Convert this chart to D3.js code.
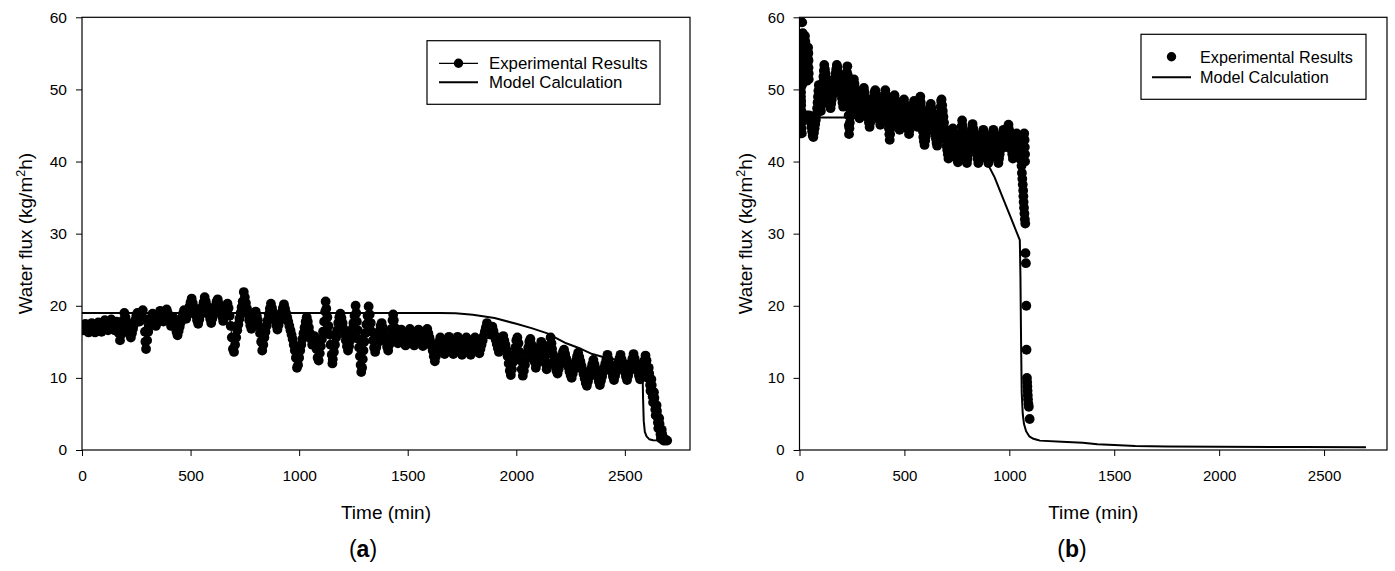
<!DOCTYPE html>
<html><head><meta charset="utf-8">
<script src="https://cdn.jsdelivr.net/npm/d3@7"></script>
<style>body{margin:0;background:#fff} svg{display:block} text{font-family:"Liberation Sans",Arial,sans-serif;fill:#000}</style>
</head><body><svg id="c" width="1395" height="571"></svg>
<script>
// ---------- data ----------
const xTicks=[0,500,1000,1500,2000,2500];
const yTicks=[0,10,20,30,40,50,60];
const xTitle="Time (min)";
const yTitleMain="Water flux (kg/m", yTitleSup="2", yTitleEnd="h)";
const legendLabels=["Experimental Results","Model Calculation"];
const panelLetters=["a","b"];

// panel (a): experimental results [time (min), flux]
const expA=[
[5,16.6],[10,17.1],[15,17.5],[20,17.0],[25,16.5],[30,16.3],[35,16.8],[40,17.3],[45,17.6],[50,17.1],[55,16.6],[60,16.3],[65,16.8],[70,17.3],[75,17.7],[80,17.2],[85,16.7],[90,16.4],[95,16.9],[100,17.5],
[105,18.0],[110,17.5],[115,16.9],[120,16.6],[125,17.1],[130,17.6],[135,18.1],[140,17.6],[145,17.0],[150,16.6],[155,17.2],[160,17.8],[165,17.0],[170,16.2],[175,15.2],[180,16.0],[185,17.0],[190,18.0],[195,19.0],[200,18.4],
[205,17.8],[210,17.2],[215,16.6],[220,16.0],[225,15.6],[230,16.2],[235,16.8],[240,17.4],[245,18.0],[250,18.6],[255,19.0],[260,18.4],[265,17.8],[270,18.4],[275,19.0],[280,19.4],[285,18.2],[290,16.4],[292,15.0],[295,14.0],[300,15.2],
[305,16.4],[310,17.2],[315,17.8],[320,18.4],[325,18.9],[330,18.4],[335,17.8],[340,17.2],[345,17.6],[350,18.2],[355,18.8],[360,19.3],[365,18.8],[370,18.2],[375,17.8],[380,18.4],[385,19.0],[390,19.5],[395,19.0],[400,18.4],
[405,17.8],[410,17.2],[415,17.8],[420,18.4],[425,17.8],[430,17.0],[435,16.4],[440,15.9],[445,16.5],[450,17.1],[455,17.7],[460,18.3],[465,18.9],[470,19.4],[475,18.8],[480,18.2],[485,18.7],[490,19.3],[495,19.9],[500,20.5],
[505,21.0],[510,20.4],[515,19.8],[520,19.2],[525,18.6],[530,18.0],[535,17.5],[540,18.1],[545,18.7],[550,19.3],[555,19.9],[560,20.5],[565,21.2],[570,20.6],[575,20.0],[580,19.4],[585,18.8],[590,18.2],[595,17.6],[600,18.2],
[605,18.8],[610,19.4],[615,20.0],[620,20.6],[625,20.9],[630,20.3],[635,19.7],[640,19.1],[645,18.5],[650,17.9],[655,18.5],[660,19.1],[665,19.7],[670,20.3],[675,19.7],[680,18.6],[685,17.2],[690,15.6],[695,14.0],[700,13.6],
[705,14.6],[710,15.6],[715,16.6],[720,17.4],[725,18.2],[730,19.0],[735,19.8],[740,20.6],[745,21.9],[750,21.2],[755,20.4],[760,19.6],[765,18.8],[770,18.0],[775,17.3],[780,16.8],[785,17.4],[790,18.0],[795,18.6],[800,19.2],
[805,18.6],[810,18.0],[815,17.2],[820,16.2],[825,15.0],[830,13.8],[835,14.6],[840,15.6],[845,16.4],[850,17.2],[855,18.0],[860,18.8],[865,19.6],[870,20.3],[875,19.7],[880,19.1],[885,18.5],[890,17.9],[895,17.3],[900,16.7],
[905,17.3],[910,17.9],[915,18.5],[920,19.1],[925,19.7],[930,20.2],[935,19.6],[940,19.0],[945,18.4],[950,17.8],[955,17.2],[960,16.6],[965,16.0],[970,15.4],[975,14.6],[980,13.8],[985,12.8],[990,11.4],[995,11.8],[1000,12.8],
[1005,13.8],[1010,14.6],[1015,15.4],[1020,16.2],[1025,17.0],[1030,17.8],[1035,18.4],[1040,17.8],[1045,17.0],[1050,16.2],[1055,15.4],[1060,14.6],[1065,15.2],[1070,15.8],[1075,15.0],[1080,14.0],[1085,12.8],[1090,12.4],[1095,13.4],[1100,14.4],
[1105,15.4],[1110,16.4],[1115,17.8],[1120,19.2],[1122,20.6],[1125,19.6],[1130,18.4],[1135,17.2],[1140,16.0],[1145,14.6],[1150,13.2],[1153,12.0],[1155,12.6],[1160,13.6],[1165,14.6],[1170,15.6],[1175,16.6],[1180,17.6],[1185,18.4],[1190,18.9],
[1195,18.3],[1200,17.6],[1205,16.8],[1210,16.0],[1215,15.2],[1220,14.4],[1225,13.8],[1230,14.4],[1235,15.2],[1240,16.0],[1245,16.8],[1250,17.6],[1255,18.6],[1260,20.0],[1263,19.0],[1266,17.8],[1270,16.6],[1273,15.4],[1276,14.2],[1280,13.0],[1283,11.8],[1286,10.8],[1290,11.4],[1293,12.6],[1296,13.8],[1300,15.0],
[1305,16.2],[1310,17.4],[1315,18.6],[1320,19.9],[1325,18.8],[1330,17.6],[1335,16.4],[1340,15.2],[1345,14.2],[1350,13.6],[1355,14.2],[1360,14.8],[1365,15.6],[1370,16.4],[1375,17.2],[1380,17.6],[1385,17.0],[1390,16.4],[1395,15.7],[1400,15.0],
[1405,14.3],[1410,13.8],[1415,14.6],[1420,15.6],[1425,16.8],[1430,18.0],[1433,18.8],[1436,18.0],[1440,17.0],[1445,16.2],[1450,15.4],[1455,14.8],[1460,15.4],[1465,16.0],[1470,16.7],[1475,16.2],[1480,15.6],[1485,15.0],[1490,14.5],[1495,15.1],[1500,15.7],
[1505,16.3],[1510,16.8],[1515,16.3],[1520,15.7],[1525,15.1],[1530,14.5],[1535,15.1],[1540,15.7],[1545,16.3],[1550,16.7],[1555,16.2],[1560,15.6],[1565,15.0],[1570,14.4],[1575,15.0],[1580,15.6],[1585,16.2],[1590,16.8],[1595,16.2],[1600,15.6],
[1605,15.0],[1610,14.4],[1615,13.8],[1620,13.0],[1625,12.3],[1630,13.0],[1635,13.7],[1640,14.4],[1645,15.0],[1650,15.6],[1655,15.0],[1660,14.4],[1665,13.8],[1670,13.3],[1675,13.9],[1680,14.5],[1685,15.1],[1690,15.7],[1695,15.1],[1700,14.5],
[1705,13.9],[1710,13.3],[1715,13.9],[1720,14.5],[1725,15.1],[1730,15.7],[1735,15.1],[1740,14.5],[1745,13.9],[1750,13.2],[1755,13.8],[1760,14.4],[1765,15.0],[1770,15.6],[1775,15.0],[1780,14.4],[1785,13.8],[1790,13.2],[1795,13.8],[1800,14.4],
[1805,15.0],[1810,15.6],[1815,15.0],[1820,14.4],[1825,13.8],[1830,13.4],[1835,14.0],[1840,14.6],[1845,15.2],[1850,15.8],[1855,16.4],[1860,17.0],[1865,17.6],[1870,17.2],[1875,16.6],[1880,16.0],[1885,16.6],[1890,17.1],[1895,16.5],[1900,15.9],
[1905,15.3],[1910,14.7],[1915,14.1],[1920,13.6],[1925,14.2],[1930,14.8],[1935,15.4],[1940,15.8],[1945,15.2],[1950,14.6],[1955,13.8],[1960,13.0],[1965,12.0],[1970,11.0],[1975,10.4],[1980,11.2],[1985,12.2],[1990,13.2],[1995,14.2],[2000,15.2],
[2005,15.6],[2010,14.8],[2015,13.6],[2020,12.4],[2025,11.2],[2030,10.3],[2035,11.0],[2040,11.8],[2045,12.6],[2050,13.4],[2055,14.2],[2060,15.0],[2065,15.4],[2070,14.6],[2075,13.8],[2080,13.0],[2085,12.2],[2090,11.4],[2095,12.0],[2100,12.8],
[2105,13.6],[2110,14.4],[2115,15.0],[2120,14.4],[2125,13.6],[2130,12.8],[2135,12.0],[2140,11.2],[2145,12.0],[2150,13.4],[2155,14.6],[2158,15.6],[2162,14.8],[2165,14.0],[2170,13.2],[2175,12.4],[2180,11.6],[2185,11.0],[2190,10.6],[2195,11.2],[2200,11.8],
[2205,12.4],[2210,13.0],[2215,13.6],[2220,13.9],[2225,13.3],[2230,12.7],[2235,12.1],[2240,11.5],[2245,10.9],[2250,10.4],[2255,10.0],[2260,10.6],[2265,11.2],[2270,11.8],[2275,12.4],[2280,13.0],[2285,13.5],[2290,12.9],[2295,12.3],[2300,11.7],
[2305,11.1],[2310,10.5],[2315,9.9],[2320,9.3],[2325,8.9],[2330,9.5],[2335,10.1],[2340,10.7],[2345,11.3],[2350,11.9],[2355,12.5],[2360,11.9],[2365,11.3],[2370,10.7],[2375,10.1],[2380,9.5],[2385,9.0],[2390,9.6],[2395,10.2],[2400,10.8],
[2405,11.4],[2410,12.0],[2415,12.6],[2420,13.2],[2425,12.6],[2430,12.0],[2435,11.4],[2440,10.8],[2445,10.2],[2450,9.7],[2455,10.3],[2460,10.9],[2465,11.5],[2470,12.1],[2475,12.7],[2480,13.2],[2485,12.6],[2490,12.0],[2495,11.4],[2500,10.8],
[2505,10.2],[2510,9.7],[2515,10.3],[2520,10.9],[2525,11.5],[2530,12.1],[2535,12.7],[2540,13.3],[2545,12.7],[2550,12.1],[2555,11.5],[2560,10.9],[2565,10.3],[2570,9.8],[2575,10.4],[2580,11.0],[2585,11.7],[2590,12.4],[2595,13.1],[2600,12.4],
[2602,11.6],[2604,10.8],[2606,10.0],[2608,10.8],[2610,11.4],[2612,10.6],[2614,9.8],[2616,9.0],[2618,8.2],[2620,9.0],[2622,9.8],[2624,9.0],[2626,8.2],[2628,7.4],[2630,6.6],[2632,7.4],[2634,8.0],[2636,7.2],[2638,6.4],[2640,5.6],[2642,4.8],[2644,5.6],[2646,6.2],[2648,5.4],[2650,4.6],[2652,3.8],[2654,3.0],[2656,3.8],[2658,4.4],[2660,3.6],[2662,2.8],[2664,2.2],[2666,1.6],[2668,2.2],[2670,2.8],[2672,2.2],[2675,1.6],[2678,1.3],[2682,1.5],[2686,1.3],[2690,1.4],[2695,1.3]];

// panel (a): model calculation
const modelA=[[0,19.0],[1650,19.0],[1720,18.95],[1800,18.75],[1900,18.3],[2000,17.5],[2070,16.9],[2140,16.2],[2230,14.8],[2300,14.0],[2350,13.3],[2400,12.9],[2450,12.6],[2500,12.4],[2550,12.2],[2578,11.8],[2582,10.0],[2584,7.0],[2587,4.0],[2592,2.5],[2600,1.9],[2612,1.5],[2630,1.35],[2700,1.3]];

// panel (b): experimental results
const expB=[
[0,44.2],[0,44.8],[1,45.4],[1,46.0],[2,46.6],[2,47.2],[3,47.8],[3,48.4],[4,49.0],[5,49.6],[6,50.2],[7,49.6],[7,49.0],[8,48.4],[8,47.8],[9,47.0],[9,46.2],[10,45.4],[10,44.6],[11,43.9],
[12,50.6],[12,51.4],[13,52.2],[13,53.0],[14,53.8],[14,54.6],[15,55.4],[15,56.2],[16,57.0],[16,57.8],[13,59.3],[18,57.2],[20,56.6],[22,56.0],[24,56.8],[26,57.4],[28,56.6],[29,55.8],[30,55.0],[31,54.2],[32,53.4],[33,52.6],[34,51.8],[35,51.2],[36,52.0],[37,52.8],[38,53.6],[39,54.4],[40,55.2],[41,55.8],[42,55.0],[43,54.0],[43,53.0],[44,52.2],[44,51.4],
[34,46.4],[38,46.2],[42,46.0],[46,46.4],[50,46.3],
[54,45.4],[57,44.8],[60,44.2],[63,43.6],[66,43.4],[69,44.0],[72,44.6],[75,45.2],[78,45.8],
[81,46.6],[84,47.4],[86,48.2],[88,49.0],[90,49.8],[92,50.6],[94,50.0],[96,49.2],[98,48.4],[100,47.6],[102,47.0],[104,47.8],[106,48.6],[108,49.4],[110,50.2],[112,51.0],[114,51.8],[116,52.6],[118,53.4],
[121,52.8],[124,52.2],[127,51.6],[130,51.0],[133,50.4],[136,49.8],[139,49.2],[142,48.6],[145,48.0],[148,47.4],[151,48.0],[154,48.6],[157,49.2],[160,49.8],[163,50.4],[166,51.0],[169,51.6],[172,52.2],[175,52.8],[178,53.4],[181,53.0],[184,52.4],[187,51.8],[190,51.2],[193,50.6],[196,50.0],[199,49.4],[202,48.8],[205,48.2],[208,47.6],[211,48.2],[214,48.8],[217,49.4],[220,50.0],[222,50.8],[224,51.6],[226,52.4],[228,53.2],[230,52.0],[231,50.6],[232,49.2],[233,47.8],[234,46.4],[235,45.0],[236,43.8],[238,44.6],[240,45.4],[242,46.2],[244,47.0],[246,47.8],[248,48.6],[250,49.4],[253,50.2],[256,51.0],[259,51.4],
[262,50.8],[265,50.2],[268,49.6],[271,49.0],[274,48.4],[277,47.8],[280,47.2],[283,46.6],[286,46.0],[289,46.6],[292,47.2],[295,47.8],[298,48.4],[301,49.0],[304,49.6],[307,50.2],
[310,49.6],[313,49.0],[316,48.4],[319,47.8],[322,47.2],[325,46.6],[328,46.0],[331,45.4],[334,44.8],[337,45.4],[340,46.0],[343,46.6],[346,47.2],[349,47.8],[352,48.4],[355,49.0],[358,49.6],[361,49.9],[364,49.3],[367,48.7],[370,48.1],[373,47.5],[376,46.9],[379,46.3],[382,45.7],[385,45.1],[388,45.7],[391,46.3],[394,46.9],[397,47.5],[400,48.1],[403,48.7],[406,49.3],[409,49.9],[412,49.3],[415,48.6],[418,47.8],[420,47.0],[422,46.2],[424,45.4],[426,44.6],[428,43.8],[430,43.0],[432,43.8],[435,44.6],[438,45.4],[441,46.2],[444,47.0],[447,47.8],[450,48.6],[453,49.2],[456,48.6],[459,48.0],[462,47.4],[465,46.8],[468,46.2],[471,45.6],[474,45.0],[477,44.4],[480,45.0],
[483,45.6],[486,46.2],[489,46.8],[492,47.4],[495,48.0],[498,48.6],[501,48.0],[504,47.4],[507,46.8],[510,46.2],[513,45.6],[516,45.0],[519,44.4],[522,43.8],[525,44.4],[528,45.0],[531,45.6],[534,46.2],[537,46.8],[540,47.4],[543,48.0],[546,48.4],[549,47.8],[552,47.2],[555,46.6],[558,46.0],[561,45.4],[564,44.8],[567,45.6],[570,46.6],[572,47.6],[574,48.4],[576,49.0],[578,48.2],[580,47.4],[582,46.6],[584,45.8],[586,45.0],[588,44.2],[590,43.4],
[593,42.8],[596,42.3],[599,42.9],[602,43.5],[605,44.1],[608,44.7],[611,45.3],[614,45.9],[617,46.5],[620,47.1],[623,47.7],[626,48.0],[629,47.4],[632,46.8],[635,46.2],[638,45.6],[641,45.0],[644,44.4],[647,43.8],[650,43.2],[653,42.6],[656,42.2],[659,42.8],[662,43.6],[665,44.4],[667,45.2],[669,46.0],[671,46.8],[673,47.6],[675,48.4],[677,48.6],[680,47.8],[683,47.0],[686,46.2],[689,45.4],
[692,44.6],[695,43.8],[698,43.0],[701,42.2],[704,41.6],[707,41.0],[710,40.4],[713,41.0],[716,41.6],[719,42.2],[722,42.8],[725,43.4],[728,44.0],[731,44.6],[734,44.0],[737,43.4],[740,42.8],[743,42.2],[746,41.6],[749,41.0],[752,40.4],[755,39.9],[758,40.5],[761,41.1],[764,41.7],[767,42.3],[769,43.1],[771,44.0],[773,44.9],[775,45.7],[777,45.0],[780,44.2],[783,43.4],[786,42.6],[789,41.8],[792,41.0],[795,40.2],[798,39.8],[801,40.4],[804,41.0],[807,41.6],[810,42.2],[813,42.8],[816,43.4],[819,44.0],[822,44.6],[825,45.2],[828,44.6],[831,44.0],[834,43.4],[837,42.8],[840,42.2],
[843,41.6],[846,41.0],[849,40.4],[852,39.8],[855,40.4],[858,41.0],[861,41.6],[864,42.2],[867,42.8],[870,43.4],[873,44.0],[876,44.4],[879,43.8],[882,43.2],[885,42.6],[888,42.0],[891,41.4],[894,40.8],[897,40.2],[900,39.8],[903,40.4],[906,41.0],[909,41.6],[912,42.2],[915,42.8],[918,43.4],[921,44.0],[924,44.4],[927,43.8],[930,43.2],[933,42.6],[936,42.0],[939,41.4],[942,40.8],[945,40.2],[948,39.8],[951,40.4],[954,41.0],[957,41.6],[960,42.2],[963,42.8],[966,43.4],[969,44.0],[972,44.4],[975,43.8],[978,43.2],[981,42.6],[984,42.0],[987,42.8],[990,43.6],[993,44.4],[996,45.1],[999,44.4],[1002,43.6],[1005,42.8],
[1008,42.2],[1011,41.6],[1014,41.0],[1017,40.4],[1020,41.0],[1023,41.6],[1026,42.2],[1029,42.8],[1032,43.4],[1035,43.9],[1038,43.3],[1041,42.7],[1044,42.1],[1047,41.5],[1050,40.9],[1053,40.3],[1056,40.9],[1059,41.5],[1062,42.1],[1065,42.7],[1068,43.3],[1071,43.9],[1073,43.0],[1074,42.0],[1075,41.0],[1075,40.0],
[1058,39.4],[1060,38.4],[1062,37.6],[1064,36.8],[1066,36.0],[1067,35.2],[1068,34.4],[1070,33.6],[1072,32.8],[1074,32.0],[1076,31.4],[1077,27.3],[1079,25.9],[1081,20.0],[1082,13.9],[1084,10.0],[1085,9.4],[1086,8.8],[1087,8.2],[1088,7.6],[1089,7.0],[1091,6.4],[1093,6.0],[1097,4.3]];

// panel (b): model calculation
const modelB=[[0,46.1],[210,46.1],[300,46.0],[400,45.7],[500,45.2],[600,44.6],[700,43.6],[800,42.1],[850,41.1],[893,39.9],[930,37.8],[970,34.9],[1010,32.0],[1050,29.1],[1053,24.0],[1056,15.0],[1059,8.0],[1064,5.0],[1070,3.6],[1080,2.6],[1095,1.9],[1115,1.55],[1136,1.4],[1145,1.3],[1250,1.15],[1350,1.0],[1420,0.8],[1500,0.68],[1600,0.56],[1750,0.5],[2000,0.45],[2400,0.4],[2700,0.38]];

// ---------- layout ----------
const panels=[
 {exp:expA, model:modelA, letter:panelLetters[0], x0:82, x1:690, y0:17.3, y1:450, expLine:true,
  legend:{bx:427,by:40.7,bw:233,bh:63.6,sx0:439,sx1:478,r1:63.3,r2:82.3,tx:489,fs:16.8},
  ytx:25, capx:363, tickFs:15.5},
 {exp:expB, model:modelB, letter:panelLetters[1], x0:799.5, x1:1387, y0:17.3, y1:450, expLine:false,
  legend:{bx:1141,by:34.3,bw:225,bh:65,sx0:1152,sx1:1191,r1:56.7,r2:77.3,tx:1200,fs:16.2},
  ytx:744.5, capx:1072, tickFs:15}
];
const dotR=4.9;

const svg=d3.select("#c");

panels.forEach(p=>{
  const x=d3.scaleLinear().domain([0,2800]).range([p.x0,p.x1]);
  const y=d3.scaleLinear().domain([0,60]).range([p.y1,p.y0]);
  const g=svg.append("g");

  const ax=g.append("g").attr("transform",`translate(0,${p.y1})`)
    .call(d3.axisBottom(x).tickValues(xTicks).tickFormat(d3.format("d")).tickSize(6).tickSizeOuter(0).tickPadding(14));
  const ay=g.append("g").attr("transform",`translate(${p.x0},0)`)
    .call(d3.axisLeft(y).tickValues(yTicks).tickFormat(d3.format("d")).tickSize(6).tickSizeOuter(0).tickPadding(9));
  [ax,ay].forEach(a=>{
    a.select(".domain").remove();
    a.selectAll(".tick line").attr("stroke","#000").attr("stroke-width",1);
    a.selectAll(".tick text").attr("font-size",p.tickFs).attr("font-family","Liberation Sans, Arial, sans-serif").attr("fill","#000");
  });

  const cid="clip"+p.letter;
  svg.append("clipPath").attr("id",cid).append("rect")
    .attr("x",p.x0).attr("y",p.y0-6).attr("width",p.x1-p.x0).attr("height",p.y1-p.y0+6);
  const dg=g.append("g").attr("clip-path",`url(#${cid})`);

  const line=d3.line().x(d=>x(d[0])).y(d=>y(d[1]));
  if(p.expLine){
    dg.append("path").datum(p.exp).attr("d",line).attr("fill","none").attr("stroke","#000").attr("stroke-width",1.2);
  }
  dg.selectAll("circle").data(p.exp).join("circle")
    .attr("cx",d=>x(d[0])).attr("cy",d=>y(d[1])).attr("r",dotR).attr("fill","#000");
  dg.append("path").datum(p.model).attr("d",line).attr("fill","none").attr("stroke","#000").attr("stroke-width",2).attr("stroke-linejoin","round");

  g.append("rect").attr("x",p.x0).attr("y",p.y0).attr("width",p.x1-p.x0).attr("height",p.y1-p.y0)
    .attr("fill","none").attr("stroke","#000").attr("stroke-width",1.2);

  g.append("text").attr("x",(p.x0+p.x1)/2).attr("y",519).attr("text-anchor","middle")
    .attr("font-size",19).text(xTitle);
  const yt=g.append("text").attr("transform",`translate(${p.ytx+7},${(p.y0+p.y1)/2}) rotate(-90)`)
    .attr("text-anchor","middle").attr("font-size",19);
  yt.append("tspan").text(yTitleMain);
  yt.append("tspan").attr("font-size",12.5).attr("dy",-7).text(yTitleSup);
  yt.append("tspan").attr("dy",7).text(yTitleEnd);

  const cap=g.append("text").attr("x",p.capx).attr("y",557).attr("text-anchor","middle")
    .attr("font-size",23).attr("font-family","Liberation Serif, DejaVu Serif, serif");
  cap.append("tspan").text("(");
  cap.append("tspan").attr("font-weight","bold").text(p.letter);
  cap.append("tspan").text(")");

  const L=p.legend;
  const lg=g.append("g");
  lg.append("rect").attr("x",L.bx).attr("y",L.by).attr("width",L.bw).attr("height",L.bh)
    .attr("fill","#fff").attr("stroke","#000").attr("stroke-width",1.2);
  if(p.expLine){
    lg.append("line").attr("x1",L.sx0).attr("x2",L.sx1).attr("y1",L.r1).attr("y2",L.r1).attr("stroke","#000").attr("stroke-width",1.2);
  }
  lg.append("circle").attr("cx",(L.sx0+L.sx1)/2).attr("cy",L.r1).attr("r",4.7).attr("fill","#000");
  lg.append("line").attr("x1",L.sx0).attr("x2",L.sx1).attr("y1",L.r2).attr("y2",L.r2).attr("stroke","#000").attr("stroke-width",2);
  lg.append("text").attr("x",L.tx).attr("y",L.r1+6).attr("font-size",L.fs).text(legendLabels[0]);
  lg.append("text").attr("x",L.tx).attr("y",L.r2+6).attr("font-size",L.fs).text(legendLabels[1]);
});
</script></body></html>
